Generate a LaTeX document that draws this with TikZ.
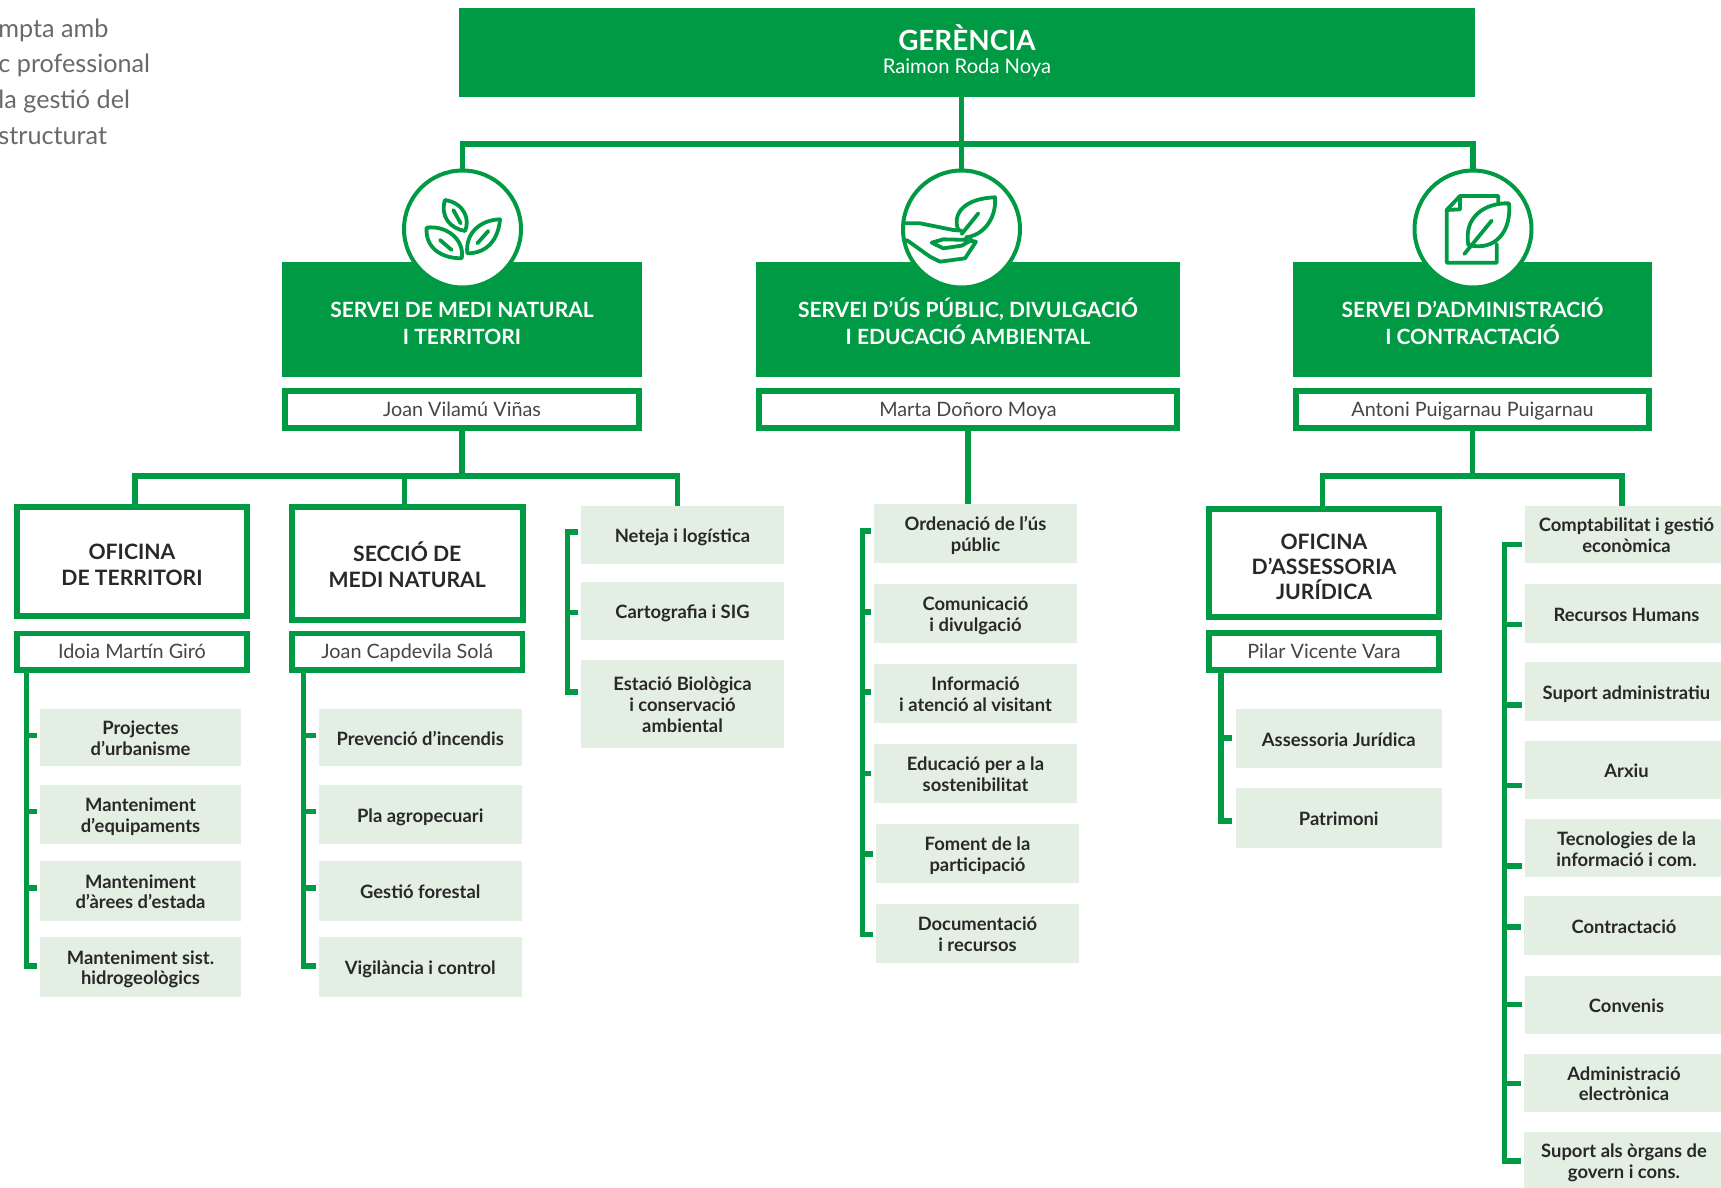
\documentclass[tikz,border=0pt]{standalone}
\usepackage{fontspec}
\setmainfont{Lato}
\usetikzlibrary{calc}
\definecolor{gr}{RGB}{0,154,68}
\definecolor{lt}{RGB}{228,239,228}
\definecolor{dk}{RGB}{40,40,40}
\definecolor{nm}{RGB}{70,70,70}
\definecolor{gy}{RGB}{105,105,105}
\newlength{\upd}
\newcommand{\bx}[7]{\node[#1,minimum width={(#5-#3)*0.5pt},minimum height={(#6-#4)*0.5pt}] (#2) at ({(#3+#5)/2},{(#4+#6)/2}) {\lineskiplimit=-30pt\vrule height \dimexpr\ht\strutbox+\upd\relax width 0pt #7\strut};}
\newcommand{\tk}[3]{\coordinate (#1) at ($(#2.west)+(-3.5,#3)$);}
\tikzset{
 base/.style={rectangle,inner sep=0pt,outer sep=0pt,align=center},
 head/.style={base,fill=gr,text=white,font=\fontsize{10.5}{13.2}\selectfont\bfseries\setlength{\upd}{6.4pt}},
 top/.style={base,fill=gr,text=white,font=\fontsize{10}{12}\selectfont\setlength{\upd}{2.6pt}},
 person/.style={base,draw=gr,fill=white,line width=2.75pt,text=nm,font=\fontsize{9.9}{12}\selectfont\setlength{\upd}{2.2pt}},
 office/.style={base,draw=gr,fill=white,line width=3pt,text=dk,font=\fontsize{10.6}{12.6}\selectfont\bfseries\setlength{\upd}{6.2pt}},
 task/.style={base,fill=lt,text=dk,font=\fontsize{9.2}{10.4}\selectfont\bfseries\setlength{\upd}{3.6pt}},
 conn/.style={draw=gr,line width=2.75pt,miter limit=10},
 badge/.style={circle,draw=gr,fill=white,line width=2pt,minimum size=58.5pt,inner sep=0pt,outer sep=0pt},
 ico/.style={draw=gr,line width=1.9pt,line join=round,line cap=round},
 note/.style={anchor=west,inner sep=0pt,text=gy,font=\fontsize{12.6}{14}\selectfont}
}
\begin{document}
\begin{tikzpicture}[x=0.5pt,y=-0.5pt]
\useasboundingbox (0,0) rectangle (1721,1188);
% left clipped text
\node[note] (n1) at (-2,30.5) {mpta amb};
\node[note] (n2) at (-2,65.5) {c professional};
\node[note] (n3) at (-2,101.5) {la gestió del};
\node[note] (n4) at (-2,136.5) {structurat};
% top
\bx{top}{ger}{459}{8}{1475}{97}{{\fontsize{13.9}{14}\selectfont\bfseries GERÈNCIA}\\[-0.5pt]{\fontsize{10.1}{12}\selectfont Raimon Roda Noya}}
% services
\bx{head}{s1}{282}{262}{642}{377}{SERVEI DE MEDI NATURAL\\I TERRITORI}
\bx{head}{s2}{756}{262}{1180}{377}{SERVEI D'ÚS PÚBLIC, DIVULGACIÓ\\I EDUCACIÓ AMBIENTAL}
\bx{head}{s3}{1293}{262}{1652}{377}{SERVEI D'ADMINISTRACIÓ\\I CONTRACTACIÓ}
\bx{person}{p1}{285}{391}{639}{428}{Joan Vilamú Viñas}
\bx{person}{p2}{759}{391}{1177}{428}{Marta Doñoro Moya}
\bx{person}{p3}{1296}{391}{1649}{428}{Antoni Puigarnau Puigarnau}
% icons circles
\node[badge] (c1) at (462.5,229) {};
\node[badge] (c2) at (961.5,229) {};
\node[badge] (c3) at (1473,229) {};
% top bus
\coordinate (busM) at (961.5,144);
\draw[conn] (ger.south -| busM) -- (c2.north);
\draw[conn] (c1.north) |- (busM) -| (c3.north);
% offices
\bx{office}{o1}{17}{507}{247}{615.5}{OFICINA\\DE TERRITORI}
\bx{office}{o2}{292}{507}{522.5}{619.5}{SECCIÓ DE\\MEDI NATURAL}
\bx{office}{o3}{1209}{509}{1439}{617}{OFICINA\\D'ASSESSORIA\\JURÍDICA}
\bx{person}{q1}{17}{633.5}{247}{670}{Idoia Martín Giró}
\bx{person}{q2}{292}{633.5}{522.5}{670}{Joan Capdevila Solá}
\bx{person}{q3}{1209}{633}{1439}{670}{Pilar Vicente Vara}
% column 1
\bx{task}{a1}{40}{708.5}{241}{766}{Projectes\\d'urbanisme}
\bx{task}{a2}{40}{784.5}{241}{844}{Manteniment\\d'equipaments}
\bx{task}{a3}{40}{861}{241}{920.5}{Manteniment\\d'àrees d'estada}
\bx{task}{a4}{40}{937}{241}{996.5}{Manteniment sist.\\hidrogeològics}
% column 2
\bx{task}{b1}{319}{708.5}{521.5}{766}{Prevenció d'incendis}
\bx{task}{b2}{319}{784.5}{521.5}{844}{Pla agropecuari}
\bx{task}{b3}{319}{861}{521.5}{920.5}{Gestió forestal}
\bx{task}{b4}{319}{937}{521.5}{996.5}{Vigilància i control}
% column 3
\bx{task}{d1}{581}{506}{784}{563.5}{Neteja i logística}
\bx{task}{d2}{581}{582}{784}{639.5}{Cartografia i SIG}
\bx{task}{d3}{581}{660}{784}{747.5}{Estació Biològica\\i conservació\\ambiental}
% middle column
\bx{task}{e1}{874}{504}{1077}{563}{Ordenació de l'ús\\públic}
\bx{task}{e2}{874}{584}{1077}{643}{Comunicació\\i divulgació}
\bx{task}{e3}{874}{664}{1077}{723}{Informació\\i atenció al visitant}
\bx{task}{e4}{874}{744}{1077}{803}{Educació per a la\\sostenibilitat}
\bx{task}{e5}{876}{824}{1079}{883}{Foment de la\\participació}
\bx{task}{e6}{876}{904}{1079}{963}{Documentació\\i recursos}
% legal
\bx{task}{f1}{1235.5}{708.5}{1442}{768}{Assessoria Jurídica}
\bx{task}{f2}{1235.5}{788}{1442}{848}{Patrimoni}
% right column
\bx{task}{g1}{1525}{506}{1728}{563}{Comptabilitat i gestió\\econòmica}
\bx{task}{g2}{1525}{584}{1728}{643}{Recursos Humans}
\bx{task}{g3}{1525}{662}{1728}{721}{Suport administratiu}
\bx{task}{g4}{1525}{740.5}{1728}{799}{Arxiu}
\bx{task}{g5}{1525}{819}{1728}{877}{Tecnologies de la\\informació i com.}
\bx{task}{g6}{1524}{896}{1724}{955}{Contractació}
\bx{task}{g7}{1525}{976}{1728}{1033.5}{Convenis}
\bx{task}{g8}{1524}{1054}{1724}{1111.5}{Administració\\electrònica}
\bx{task}{g9}{1524}{1132}{1724}{1188}{Suport als òrgans de\\govern i cons.}
% second-level buses
\coordinate (u1) at (135,476);
\coordinate (u2) at (404.6,476);
\coordinate (u3) at (677.5,476);
\draw[conn] (p1.south) -- (p1.south |- u1);
\draw[conn] (o1.north -| u1) -- (u1) -- (u3) -- (d1.north -| u3);
\draw[conn] (u2) -- (o2.north -| u2);
\draw[conn] (p2.south) -- (e1.north -| p2.south);
\coordinate (w1) at (1322.6,476);
\coordinate (w2) at (1622,476);
\draw[conn] (p3.south) -- (p3.south |- w1);
\draw[conn] (o3.north -| w1) -- (w1) -- (w2) -- (g1.north -| w2);
% brackets
\coordinate (xa) at (26.5,700);
\coordinate (xb) at (303.5,700);
\coordinate (xd) at (567.5,700);
\coordinate (xe) at (862.5,700);
\coordinate (xf) at (1221,700);
\coordinate (xg) at (1504.6,700);
% col a
\tk{ta1}{a1}{-2}\tk{ta2}{a2}{-3}\tk{ta3}{a3}{-3}\tk{ta4}{a4}{-1}
\draw[conn] (q1.south -| xa) -- (ta4 -| xa) -- (ta4);
\foreach \t in {ta1,ta2,ta3}{\draw[conn] (\t -| xa) -- (\t);}
% col b
\tk{tb1}{b1}{-2}\tk{tb2}{b2}{-3}\tk{tb3}{b3}{-3}\tk{tb4}{b4}{-1}
\draw[conn] (q2.south -| xb) -- (tb4 -| xb) -- (tb4);
\foreach \t in {tb1,tb2,tb3}{\draw[conn] (\t -| xb) -- (\t);}
% col d
\tk{td1}{d1}{-3}\tk{td2}{d2}{1.7}\tk{td3}{d3}{-12}
\draw[conn] (td1) -- (td1 -| xd) -- (td3 -| xd) -- (td3);
\draw[conn] (td2 -| xd) -- (td2);
% col e
\tk{te1}{e1}{-2.5}\tk{te2}{e2}{-1.5}\tk{te3}{e3}{-1.5}\tk{te4}{e4}{0}\tk{te5}{e5}{0.5}\tk{te6}{e6}{1}
\draw[conn] (te1) -- (te1 -| xe) -- (te6 -| xe) -- (te6);
\foreach \t in {te2,te3,te4,te5}{\draw[conn] (\t -| xe) -- (\t);}
% col f
\tk{tf1}{f1}{-0.5}\tk{tf2}{f2}{3}
\draw[conn] (q3.south -| xf) -- (tf2 -| xf) -- (tf2);
\draw[conn] (tf1 -| xf) -- (tf1);
% col g
\tk{tg1}{g1}{10}\tk{tg2}{g2}{11}\tk{tg3}{g3}{13.5}\tk{tg4}{g4}{15.8}\tk{tg5}{g5}{18}\tk{tg6}{g6}{1.5}\tk{tg7}{g7}{-0.2}\tk{tg8}{g8}{0.8}\tk{tg9}{g9}{1}
\draw[conn] (tg1) -- (tg1 -| xg) -- (tg9 -| xg) -- (tg9);
\foreach \t in {tg2,tg3,tg4,tg5,tg6,tg7,tg8}{\draw[conn] (\t -| xg) -- (\t);}
% icon 1: three leaves
\begin{scope}[shift={(390,160)},x=0.16667pt,y=-0.16667pt]
\draw[ico] (165,120) .. controls (225,130) and (240,180) .. (225,213) .. controls (180,205) and (150,170) .. cycle;
\draw[ico] (190,150) -- (212,190);
\draw[ico] (110,203) .. controls (170,195) and (225,240) .. (215,295) .. controls (150,295) and (105,260) .. cycle;
\draw[ico] (150,240) -- (185,270);
\draw[ico] (330,178) .. controls (325,240) and (290,280) .. (232,280) .. controls (225,220) and (270,180) .. cycle;
\draw[ico] (262,250) -- (295,213);
\end{scope}
% icon 2: hand and leaf
\begin{scope}[shift={(890,160)},x=0.16667pt,y=-0.16667pt]
\draw[ico] (205,210) .. controls (185,160) and (225,115) .. (315,112) .. controls (320,170) and (285,225) .. (228,232);
\draw[ico] (215,222) -- (265,160);
\draw[ico] (46,190) -- (90,190) -- (190,210) -- (215,212);
\draw[ico] (50,240) -- (120,290) -- (150,305) -- (225,295) -- (258,245) -- (225,240);
\draw[ico] (125,248) -- (160,238) -- (245,240) -- (215,257) -- (160,265) -- cycle;
\end{scope}
% icon 3: document and leaf
\begin{scope}[shift={(1405,160)},x=0.16667pt,y=-0.16667pt]
\draw[ico] (280,130) -- (280,108) -- (165,108) -- (125,150) -- (125,308) -- (275,308) -- (275,252);
\draw[ico] (165,108) -- (165,148) -- (125,150);
\draw[ico] (312,130) .. controls (240,128) and (175,170) .. (190,255) .. controls (270,275) and (320,215) .. cycle;
\draw[ico] (178,282) -- (260,182);
\end{scope}
\end{tikzpicture}
\end{document}
